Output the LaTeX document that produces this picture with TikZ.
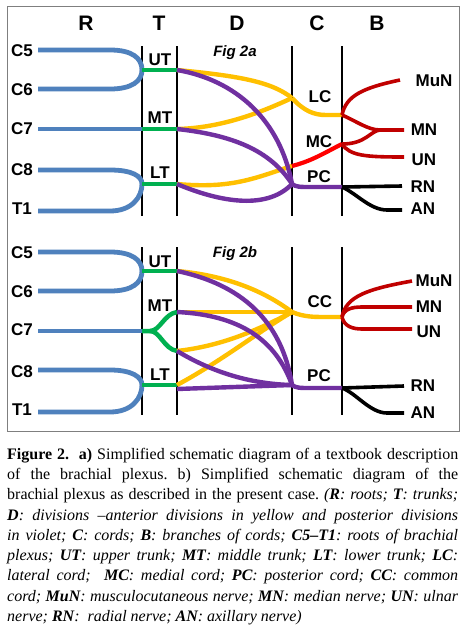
\documentclass[tikz,border=0pt]{standalone}
\usepackage{fontspec}
\setmainfont{Liberation Serif}
\setsansfont{Liberation Sans}
\definecolor{rootblue}{HTML}{4F81BD}
\definecolor{trunkgreen}{HTML}{00B050}
\definecolor{antyellow}{HTML}{FFC000}
\definecolor{postviolet}{HTML}{7030A0}
\definecolor{brred}{HTML}{C00000}
\definecolor{mcred}{HTML}{FF0000}
\definecolor{framegray}{HTML}{7F7F7F}
\begin{document}
\frenchspacing
\begin{tikzpicture}[x=1pt,y=-1pt,
  lbl/.style={font=\sffamily\bfseries\fontsize{17}{19}\selectfont, inner sep=0pt},
  hdr/.style={font=\sffamily\bfseries\fontsize{21}{24}\selectfont, inner sep=0pt},
  figl/.style={font=\sffamily\bfseries\itshape\fontsize{15}{17}\selectfont, inner sep=0pt, anchor=base},
  sep/.style={draw=black, line width=1.3pt},
  rootl/.style={draw=rootblue, line width=4.8pt},
  trunkl/.style={draw=trunkgreen, line width=4.5pt},
  antl/.style={draw=antyellow, line width=4.4pt},
  postl/.style={draw=postviolet, line width=4.4pt},
  brl/.style={draw=brred, line width=3.6pt},
  mcl/.style={draw=mcred, line width=4.2pt},
  blkl/.style={draw=black, line width=3.6pt}]
\useasboundingbox (0,0) rectangle (474,633);
\fill[white] (0,0) rectangle (474,633);
\draw[framegray, line width=1pt] (7,6) rectangle (459,431);

% headers
\node[hdr] (hR) at (86,23) {R};
\node[hdr] (hT) at (159,23) {T};
\node[hdr] (hD) at (237,23) {D};
\node[hdr] (hC) at (317,23) {C};
\node[hdr] (hB) at (377,23) {B};

% separators
\foreach \xx in {142,177,292,342}{
  \draw[sep] (\xx,46) -- (\xx,216);
  \draw[sep] (\xx,247) -- (\xx,415);
}

% ================= Fig 2a =================
\node[figl] (figa) at (235,56.5) {Fig 2a};
\node[lbl] (c5a) at (22,51) {C5};
\node[lbl] (c6a) at (22,90) {C6};
\node[lbl] (c7a) at (22,129) {C7};
\node[lbl] (c8a) at (22,170) {C8};
\node[lbl] (t1a) at (22,209) {T1};
\node[lbl] (uta) at (160,60) {UT};
\node[lbl] (mta) at (160,118) {MT};
\node[lbl] (lta) at (160,173) {LT};
\node[lbl] (lca) at (320,97) {LC};
\node[lbl] (mca) at (319,142) {MC};
\node[lbl] (pca) at (319,177) {PC};
\node[lbl] (muna) at (434,81) {MuN};
\node[lbl] (mna) at (424,130) {MN};
\node[lbl] (una) at (424,160) {UN};
\node[lbl] (rna) at (423,187) {RN};
\node[lbl] (ana) at (423,209) {AN};

\coordinate (r5a) at (38,50);
\coordinate (r6a) at (38,89);
\coordinate (r7a) at (38,129);
\coordinate (r8a) at (38,170);
\coordinate (r1a) at (38,211);
\coordinate (ut1) at (142,70);
\coordinate (ut2) at (177,70);
\coordinate (mt1) at (142,129);
\coordinate (mt2) at (177,129);
\coordinate (lt1) at (142,184);
\coordinate (lt2) at (177,184);
\coordinate (lcj) at (292,98);
\coordinate (mcj) at (292,166);
\coordinate (pcj) at (292,184);
\coordinate (lce) at (342,115);
\coordinate (mce) at (342,144);
\coordinate (pce) at (342,187);
\coordinate (mnj) at (380,130);
\coordinate (mune) at (400,80);
\coordinate (mne) at (404,130);
\coordinate (une) at (404,157);
\coordinate (rne) at (402,186);
\coordinate (ane) at (402,210);

\draw[rootl] (r5a) -- (110,50) .. controls (132,50) and (142,58) .. (ut1);
\draw[rootl] (r6a) -- (110,89) .. controls (132,89) and (142,81) .. (ut1);
\draw[rootl] (r7a) -- (mt1);
\draw[rootl] (r8a) -- (110,170) .. controls (132,170) and (142,176) .. (lt1);
\draw[rootl] (r1a) -- (110,211) .. controls (132,211) and (142,197) .. (lt1);

\draw[trunkl] (ut1) -- (ut2);
\draw[trunkl] (mt1) -- (mt2);
\draw[trunkl] (lt1) -- (lt2);

\draw[antl] (ut2) .. controls (240,76) and (272,82) .. (lcj);
\draw[antl] (mt2) .. controls (222,128) and (262,112) .. (lcj);
\draw[antl] (lt2) .. controls (232,189) and (255,178) .. (mcj);
\draw[antl] (lcj) .. controls (304,111) and (314,115) .. (326,115) -- (lce);

\draw[postl] (ut2) .. controls (236,80) and (280,120) .. (pcj);
\draw[postl] (mt2) .. controls (232,135) and (270,150) .. (pcj);
\draw[postl] (lt2) .. controls (215,200) and (265,212) .. (pcj);
\draw[postl] (pcj) .. controls (296,187) and (300,187) .. (310,187) -- (pce);

\draw[mcl] (mcj) .. controls (312,161) and (326,152) .. (mce);

\draw[brl] (lce) .. controls (346,96) and (362,88) .. (mune);
\draw[brl] (lce) .. controls (356,121) and (368,130) .. (mnj) -- (mne);
\draw[brl] (mce) .. controls (366,144) and (370,131) .. (mnj);
\draw[brl] (mce) .. controls (350,156) and (366,157) .. (une);

\draw[blkl] (pce) -- (rne);
\draw[blkl] (pce) .. controls (356,193) and (370,210) .. (387,210) -- (ane);

% ================= Fig 2b =================
\node[figl] (figb) at (235,257.5) {Fig 2b};
\node[lbl] (c5b) at (22,253) {C5};
\node[lbl] (c6b) at (22,292) {C6};
\node[lbl] (c7b) at (22,330) {C7};
\node[lbl] (c8b) at (22,372) {C8};
\node[lbl] (t1b) at (22,410) {T1};
\node[lbl] (utb) at (160,262) {UT};
\node[lbl] (mtb) at (160,306) {MT};
\node[lbl] (ltb) at (160,375) {LT};
\node[lbl] (ccb) at (320,302) {CC};
\node[lbl] (pcb) at (319,376) {PC};
\node[lbl] (munb) at (434,281) {MuN};
\node[lbl] (mnb) at (429,307) {MN};
\node[lbl] (unb) at (429,332) {UN};
\node[lbl] (rnb) at (423,386) {RN};
\node[lbl] (anb) at (423,413) {AN};

\coordinate (r5b) at (38,252);
\coordinate (r6b) at (38,291);
\coordinate (r7b) at (38,331);
\coordinate (r8b) at (38,370);
\coordinate (r1b) at (38,412);
\coordinate (utb1) at (142,271);
\coordinate (utb2) at (177,271);
\coordinate (mtb1) at (142,331);
\coordinate (mtsp) at (150,331);
\coordinate (mtu) at (177,312);
\coordinate (mtl) at (177,351);
\coordinate (ltb1) at (142,385);
\coordinate (ltb2) at (177,385);
\coordinate (ltp) at (177,389);
\coordinate (ccj) at (292,312);
\coordinate (pcjb) at (292,385);
\coordinate (cce) at (342,317);
\coordinate (pceb) at (342,388);
\coordinate (muneb) at (412,281);
\coordinate (mneb) at (412,307);
\coordinate (uneb) at (412,329);
\coordinate (rneb) at (404,386);
\coordinate (aneb) at (404,413);

\draw[rootl] (r5b) -- (110,252) .. controls (132,252) and (142,260) .. (utb1);
\draw[rootl] (r6b) -- (110,291) .. controls (132,291) and (142,283) .. (utb1);
\draw[rootl] (r7b) -- (mtb1);
\draw[rootl] (r8b) -- (110,370) .. controls (132,370) and (142,377) .. (ltb1);
\draw[rootl] (r1b) -- (110,412) .. controls (132,412) and (142,398) .. (ltb1);

\draw[trunkl] (utb1) -- (utb2);
\draw[trunkl] (mtb1) -- (mtsp) .. controls (160,331) and (164,314) .. (mtu);
\draw[trunkl] (mtsp) .. controls (160,331) and (164,349) .. (mtl);
\draw[trunkl] (ltb1) -- (ltb2);

\draw[antl] (utb2) .. controls (232,276) and (268,294) .. (ccj);
\draw[antl] (mtu) -- (ccj);
\draw[antl] (mtl) .. controls (222,346) and (258,330) .. (ccj);
\draw[antl] (ltb2) .. controls (220,362) and (258,332) .. (ccj);
\draw[antl] (ccj) .. controls (304,317) and (314,317) .. (326,317) -- (cce);

\draw[postl] (utb2) .. controls (240,284) and (282,320) .. (pcjb);
\draw[postl] (mtu) .. controls (240,315) and (276,340) .. (pcjb);
\draw[postl] (mtl) .. controls (212,372) and (250,384) .. (pcjb);
\draw[postl] (ltp) -- (pcjb);
\draw[postl] (pcjb) .. controls (296,388) and (300,388) .. (310,388) -- (pceb);

\draw[brl] (cce) .. controls (346,296) and (368,289) .. (muneb);
\draw[brl] (cce) .. controls (344,309) and (352,307) .. (362,307) -- (mneb);
\draw[brl] (cce) .. controls (344,326) and (352,329) .. (362,329) -- (uneb);

\draw[blkl] (pceb) -- (rneb);
\draw[blkl] (pceb) .. controls (356,393) and (370,413) .. (387,413) -- (aneb);

% ================= caption =================
\node[anchor=north west, inner sep=0pt, text width=451pt, align=justify,
      font=\fontsize{16}{20.25}\selectfont] (cap) at (7,448) {%
\textbf{Figure 2.}\ \ \textbf{a)} Simplified schematic diagram of a textbook description\linebreak
of the brachial plexus. b) Simplified schematic diagram of the\linebreak
brachial plexus as described in the present case. \textit{(\textbf{R}: roots; \textbf{T}: trunks;}\linebreak
\textit{\textbf{D}: divisions --anterior divisions in yellow and posterior divisions}\linebreak
\textit{in violet; \textbf{C}: cords; \textbf{B}: branches of cords; \textbf{C5--T1}: roots of brachial}\linebreak
\textit{plexus; \textbf{UT}: upper trunk; \textbf{MT}: middle trunk; \textbf{LT}: lower trunk; \textbf{LC}:}\linebreak
\textit{lateral cord;\ \ \textbf{MC}: medial cord; \textbf{PC}: posterior cord; \textbf{CC}: common}\linebreak
\textit{cord; \textbf{MuN}: musculocutaneous nerve; \textbf{MN}: median nerve; \textbf{UN}: ulnar}\linebreak
\textit{nerve; \textbf{RN}:\ \ radial nerve; \textbf{AN}: axillary nerve)}};
\end{tikzpicture}
\end{document}
